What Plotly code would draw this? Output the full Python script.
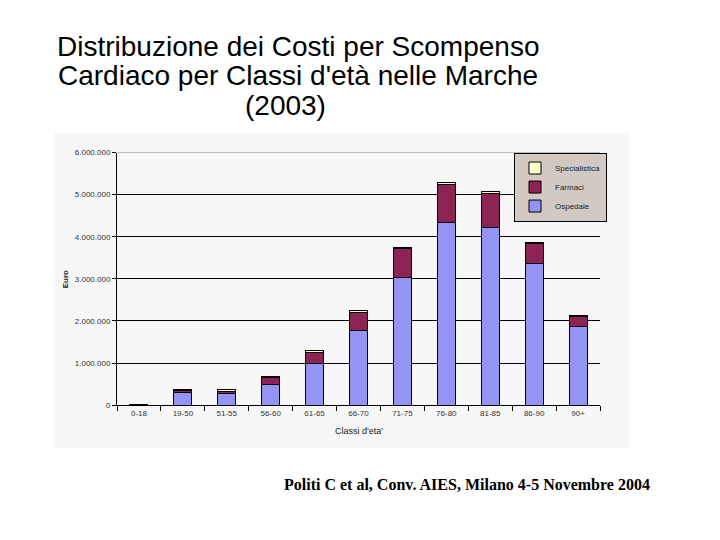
import plotly.graph_objects as go

categories = ["0-18", "19-50", "51-55", "56-60", "61-65", "66-70",
              "71-75", "76-80", "81-85", "86-90", "90+"]
ospedale = [12000, 290000, 270000, 500000, 1000000, 1770000,
            3030000, 4350000, 4230000, 3370000, 1860000]
farmaci = [7000, 50000, 60000, 160000, 250000, 430000,
           680000, 880000, 800000, 470000, 240000]
specialistica = [3000, 40000, 30000, 10000, 40000, 40000,
                 40000, 70000, 50000, 30000, 20000]
y_ticks = [0, 1000000, 2000000, 3000000, 4000000, 5000000, 6000000]
y_ticktext = ["0", "1.000.000", "2.000.000", "3.000.000",
              "4.000.000", "5.000.000", "6.000.000"]

OFF = 8  # page body margin
W, H = 720 - OFF, 540 - 2 * OFF
def px(x):
    return (x - OFF) / W
def py(y):
    return 1 - (y - OFF) / H

line = dict(color="black", width=1)
fig = go.Figure()
fig.add_trace(go.Bar(name="Ospedale", x=categories, y=ospedale,
                     marker=dict(color="#9494f4", line=line)))
fig.add_trace(go.Bar(name="Farmaci", x=categories, y=farmaci,
                     marker=dict(color="#8e2356", line=line)))
fig.add_trace(go.Bar(name="Specialistica", x=categories, y=specialistica,
                     marker=dict(color="#ffffcc", line=line)))

tickfont = dict(family="Liberation Sans", size=8, color="#333333")
fig.update_layout(
    width=W, height=H,
    margin=dict(l=0, r=0, t=0, b=0),
    paper_bgcolor="white",
    plot_bgcolor="rgba(0,0,0,0)",
    barmode="stack",
    bargap=0.59,
    showlegend=True,
    legend=dict(x=px(514), y=py(151), xanchor="left", yanchor="top",
                bgcolor="#d2cac2", bordercolor="black", borderwidth=1,
                traceorder="reversed",
                font=dict(family="Liberation Sans", size=8, color="#222222"),
                itemwidth=30, tracegroupgap=0),
    xaxis=dict(domain=[px(117), px(600)], showline=True, linecolor="black",
               linewidth=1, ticks="outside", tickson="boundaries",
               ticklen=5, tickcolor="black", tickfont=tickfont,
               showgrid=False, fixedrange=True),
    yaxis=dict(domain=[py(408), py(151)], range=[0, 6000000],
               tickvals=y_ticks, ticktext=y_ticktext,
               showline=True, linecolor="black", linewidth=1,
               ticks="outside", ticklen=4, tickcolor="black",
               tickfont=tickfont, showgrid=True, gridcolor="black",
               gridwidth=1, zeroline=False, fixedrange=True),
    shapes=[
        dict(type="rect", xref="paper", yref="paper",
             x0=px(54), x1=px(630), y0=py(452), y1=py(131),
             fillcolor="#f7f7f7", line=dict(width=0), layer="below"),
        dict(type="line", xref="x domain", yref="y",
             x0=0, x1=1, y0=6000000, y1=6000000,
             line=dict(color="#808080", width=1), layer="above"),
    ],
)

title_font = dict(family="Liberation Sans", size=28, color="black")
titles = [("Distribuzione dei Costi per Scompenso", 298, 43),
          ("Cardiaco per Classi d'età nelle Marche", 298, 73),
          ("(2003)", 285, 103)]
for txt, x, y in titles:
    fig.add_annotation(text=txt, x=px(x), y=py(y), xref="paper", yref="paper",
                       xanchor="center", yanchor="middle", showarrow=False,
                       font=title_font)

fig.add_annotation(text="<b>Euro</b>", x=px(65), y=py(280), xref="paper",
                   yref="paper", textangle=-90, showarrow=False,
                   xanchor="center", yanchor="middle",
                   font=dict(family="Liberation Sans", size=8, color="#222222"))
fig.add_annotation(text="Classi d'eta'", x=px(359), y=py(434), xref="paper",
                   yref="paper", showarrow=False, xanchor="center",
                   yanchor="middle",
                   font=dict(family="Liberation Sans", size=9, color="#222222"))
fig.add_annotation(text="<b>Politi C et al, Conv. AIES, Milano 4-5 Novembre 2004</b>",
                   x=px(467), y=py(489), xref="paper", yref="paper",
                   showarrow=False, xanchor="center", yanchor="middle",
                   font=dict(family="Liberation Serif", size=16, color="black"))

fig.write_html("out.html")
